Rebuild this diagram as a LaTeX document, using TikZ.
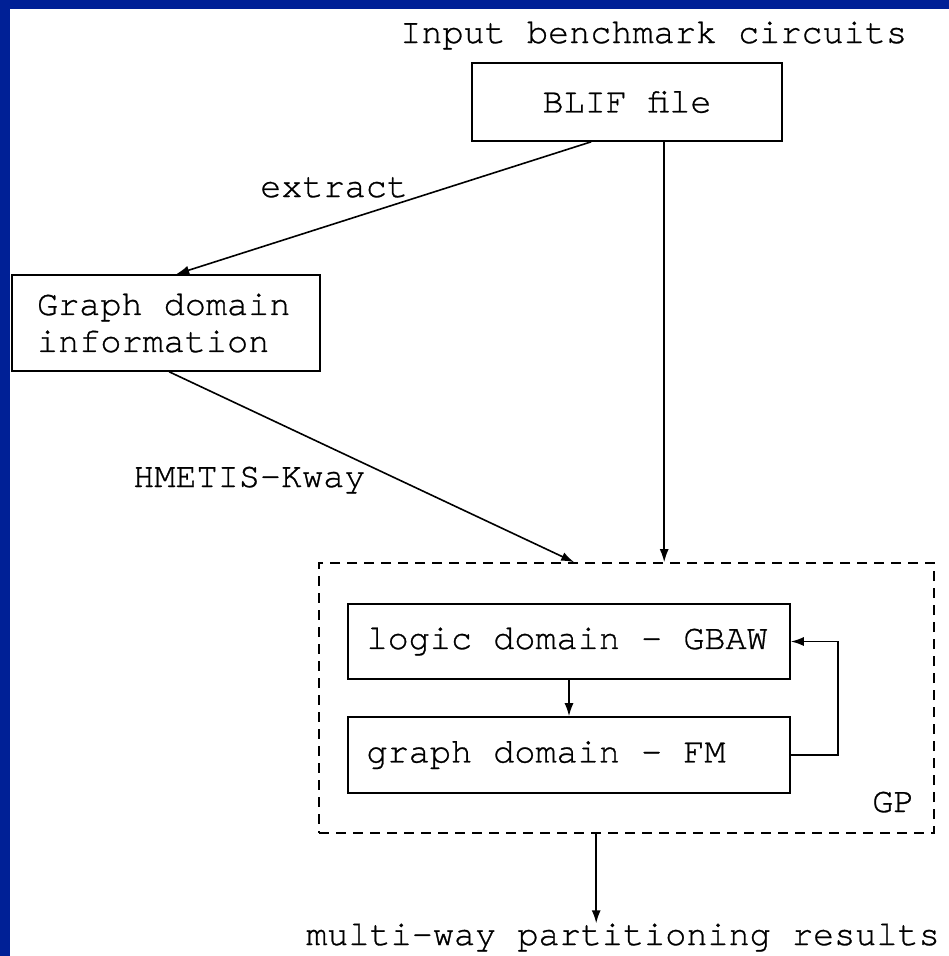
\documentclass[tikz,border=0pt]{standalone}
\usepackage{fontspec}
\setmonofont[FakeBold=0.8]{TeX Gyre Cursor}
\usetikzlibrary{arrows.meta,calc}
\definecolor{frameblue}{RGB}{0,32,150}
\begin{document}
\begin{tikzpicture}[x=1pt,y=-1pt,
  every node/.style={font=\ttfamily\fontsize{35.2}{37}\selectfont, inner sep=0pt, text=black},
  box/.style={draw=black, line width=1.6pt, rectangle},
  lbox/.style={box, align=flush left, text width=405pt, inner xsep=18.5pt},
  gpbox/.style={draw=black, line width=1.6pt, dash pattern=on 10pt off 7pt, rectangle, minimum width=615pt, minimum height=270pt},
  arr/.style={line width=1.6pt, -{Latex[length=13pt,width=9pt]}},
  lbl/.style={anchor=base west}
]
\useasboundingbox (0,0) rectangle (949,956);
\fill[frameblue] (0,0) rectangle (949,956);
\fill[white] (10,9) rectangle (949,956);

\node[lbl] (top) at (400,43) {Input benchmark circuits};
\node[box, minimum width=310pt, minimum height=78pt] (blif) at (627,102) {BLIF file};
\node[box, align=flush left, text width=258pt, inner xsep=25pt, minimum height=96pt] (info) at (166,323) {Graph domain\\information};
\node[gpbox] (gp) at (626.5,698) {};
\node[lbox, minimum height=75pt] (logic) at (569,641.5) {logic domain - GBAW};
\node[lbox, minimum height=76pt] (fm) at (569,755) {graph domain - FM};
\node[lbl] (gplbl) at (872,812) {GP};
\node[lbl] (res) at (306,945) {multi-way partitioning results};
\node[lbl] (ext) at (260,197) {extract};
\node[lbl] (hm) at (133,487) {HMETIS-Kway};

\draw[arr] ([xshift=120pt]blif.south west) -- ([xshift=165pt]info.north west);
\draw[arr] ([xshift=158pt]info.south west) -- ([xshift=256pt]gp.north west);
\draw[arr] ([xshift=193pt]blif.south west) -- ([xshift=193pt]blif.south west |- gp.north);
\draw[arr] (logic.south) -- (fm.north);
\draw[arr] (fm.east) -- ++(47,0) |- (logic.east);
\draw[arr] ([xshift=278pt]gp.south west) -- ([xshift=278pt]gp.south west |- res.north);
\end{tikzpicture}
\end{document}
